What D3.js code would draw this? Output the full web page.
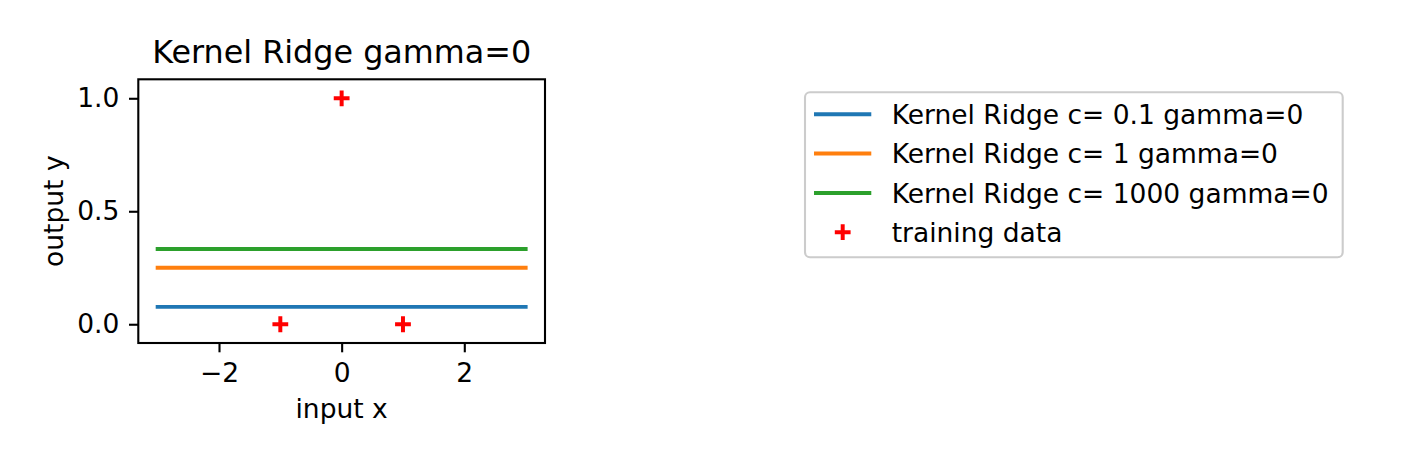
<!DOCTYPE html>
<html>
<head>
<meta charset="utf-8">
<script src="https://cdn.jsdelivr.net/npm/d3@7"></script>
<style>
  html, body { margin: 0; padding: 0; background: #ffffff; }
  svg { display: block; font-family: "DejaVu Sans", sans-serif; }
</style>
</head>
<body>
<svg id="chart" width="1404" height="454"></svg>
<script>
// ---- data ----
const seriesLabels = ["Kernel Ridge c= 0.1 gamma=0", "Kernel Ridge c= 1 gamma=0", "Kernel Ridge c= 1000 gamma=0"];
const seriesValues = [0.0769, 0.25, 0.3332];
const seriesColors = ["#1f77b4", "#ff7f0e", "#2ca02c"];
const lineXRange = [-3, 3];
const trainX = [-1, 0, 1];
const trainY = [0, 1, 0];
const trainLabel = "training data";
const xTicks = [-2, 0, 2];
const yTicks = [0.0, 0.5, 1.0];
const titleText = "Kernel Ridge gamma=0";
const xLabel = "input x";
const yLabel = "output y";

// ---- layout ----
const svg = d3.select("#chart");
const plot = { left: 138.3, right: 545, top: 79.3, bottom: 343 };
const fs = 26.5;
const lw = 3.97;

const x = d3.scaleLinear().domain([-3.316, 3.316]).range([plot.left, plot.right]);
const y = d3.scaleLinear().domain([-0.083, 1.084]).range([plot.bottom, plot.top]);

// lines
const lineGen = d3.line().x(d => x(d[0])).y(d => y(d[1]));
svg.append("g").selectAll("path")
  .data(seriesValues)
  .join("path")
  .attr("d", v => lineGen(lineXRange.map(xx => [xx, v])))
  .attr("fill", "none")
  .attr("stroke", (v, i) => seriesColors[i])
  .attr("stroke-width", lw)
  .attr("stroke-linecap", "square");

// scatter '+'
const plusPath = (cx, cy, r) => `M${cx - r},${cy}L${cx + r},${cy}M${cx},${cy - r}L${cx},${cy + r}`;
svg.append("g").selectAll("path")
  .data(trainX.map((d, i) => [d, trainY[i]]))
  .join("path")
  .attr("d", d => plusPath(x(d[0]), y(d[1]), 7.9))
  .attr("stroke", "#ff0000")
  .attr("stroke-width", lw)
  .attr("fill", "none");

// spines
svg.append("rect")
  .attr("x", plot.left).attr("y", plot.top)
  .attr("width", plot.right - plot.left).attr("height", plot.bottom - plot.top)
  .attr("fill", "none").attr("stroke", "#000").attr("stroke-width", 2.1);

// axes
const fmtX = d3.format("d");
const xAxis = d3.axisBottom(x).tickValues(xTicks).tickFormat(d => fmtX(d)).tickSize(9.3).tickPadding(10.5);
const gx = svg.append("g").attr("transform", `translate(0,${plot.bottom})`).call(xAxis);
const yAxis = d3.axisLeft(y).tickValues(yTicks).tickFormat(d3.format(".1f")).tickSize(9.3).tickPadding(9.7);
const gy = svg.append("g").attr("transform", `translate(${plot.left},0)`).call(yAxis);
[gx, gy].forEach(g => {
  g.select(".domain").remove();
  g.selectAll(".tick line").attr("stroke", "#000").attr("stroke-width", 2.1);
  g.selectAll(".tick text").attr("fill", "#000").style("font-size", fs + "px").style("font-family", "DejaVu Sans");
});

// title & labels
svg.append("text").attr("x", (plot.left + plot.right) / 2).attr("y", 63.3)
  .attr("text-anchor", "middle").style("font-size", "31.8px").text(titleText);
svg.append("text").attr("x", (plot.left + plot.right) / 2).attr("y", 417.5)
  .attr("text-anchor", "middle").style("font-size", fs + "px").text(xLabel);
svg.append("text").attr("transform", `translate(63.3,${(plot.top + plot.bottom) / 2}) rotate(-90)`)
  .attr("text-anchor", "middle").style("font-size", fs + "px").text(yLabel);

// legend
const leg = svg.append("g");
leg.append("rect").attr("x", 805).attr("y", 92.3).attr("width", 1342.7 - 805).attr("height", 257.3 - 92.3)
  .attr("rx", 5).attr("ry", 5)
  .attr("fill", "#ffffff").attr("fill-opacity", 0.8)
  .attr("stroke", "#cccccc").attr("stroke-width", 2.1);
const rowY = i => 114.3 + i * 39.3;
const legendItems = seriesLabels.map((l, i) => ({ label: l, color: seriesColors[i], type: "line" }))
  .concat([{ label: trainLabel, color: "#ff0000", type: "plus" }]);
legendItems.forEach((it, i) => {
  const cy = rowY(i);
  if (it.type === "line") {
    leg.append("line").attr("x1", 816).attr("x2", 869.3).attr("y1", cy).attr("y2", cy)
      .attr("stroke", it.color).attr("stroke-width", lw).attr("stroke-linecap", "square");
  } else {
    leg.append("path").attr("d", plusPath(842.7, cy, 7.9))
      .attr("stroke", it.color).attr("stroke-width", lw).attr("fill", "none");
  }
  leg.append("text").attr("x", 891.7).attr("y", cy + 9.66)
    .style("font-size", fs + "px").attr("fill", "#000").text(it.label);
});
</script>
</body>
</html>
